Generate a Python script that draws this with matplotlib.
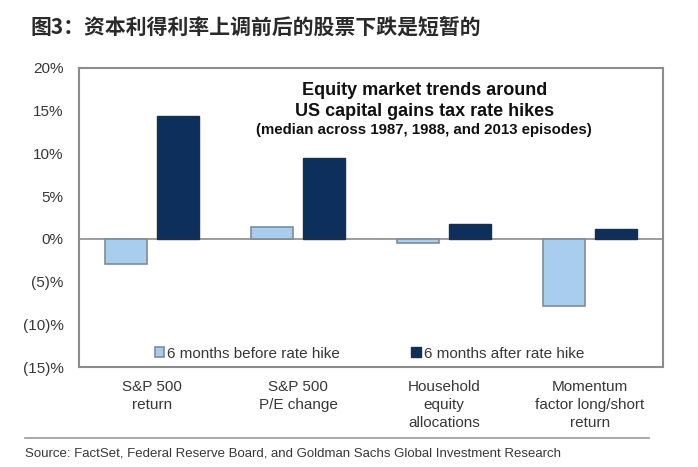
import matplotlib
matplotlib.use("Agg")
import matplotlib.pyplot as plt
import numpy as np

plt.rcParams['font.family'] = ['Liberation Sans', 'DejaVu Sans']

categories = ["S&P 500\nreturn", "S&P 500\nP/E change", "Household\nequity\nallocations",
              "Momentum\nfactor long/short\nreturn"]
before = [-2.9, 1.4, -0.45, -7.85]
after = [14.4, 9.5, 1.75, 1.2]
yticks = [20, 15, 10, 5, 0, -5, -10, -15]
ytick_labels = ["20%", "15%", "10%", "5%", "0%", "(5)%", "(10)%", "(15)%"]

light = "#a9cdee"
dark = "#0c2f5c"
txt = "#383838"
frame = "#8c8c8c"

fig = plt.figure(figsize=(6.98, 4.67), dpi=100)
ax = fig.add_axes([0.1132, 0.2141, 0.8367, 0.6403])

x = np.arange(len(categories))
w = 0.284
ax.bar(x - 0.178, before, w, color=light, edgecolor="#7f8c99", linewidth=1.2,
       label="6 months before rate hike", zorder=3)
ax.bar(x + 0.178, after, w, color=dark, edgecolor="#1c2f45", linewidth=1.0,
       label="6 months after rate hike", zorder=3)

ax.axhline(0, color=frame, linewidth=1.2, zorder=2)
ax.set_xlim(-0.5, 3.5)
ax.set_ylim(-15, 20)
ax.set_yticks(yticks)
ax.set_yticklabels(ytick_labels, fontsize=11, color=txt)
ax.set_xticks(x)
ax.set_xticklabels(categories, fontsize=11, color=txt, linespacing=1.4)
ax.tick_params(axis='y', length=0, pad=11)
ax.tick_params(axis='x', length=0, pad=9)
for s in ax.spines.values():
    s.set_color(frame)
    s.set_linewidth(1.5)

ax.text(0.591, 0.926, "Equity market trends around", transform=ax.transAxes,
        ha="center", va="center", fontsize=13, fontweight="bold", color="#111111")
ax.text(0.591, 0.856, "US capital gains tax rate hikes", transform=ax.transAxes,
        ha="center", va="center", fontsize=13, fontweight="bold", color="#111111")
ax.text(0.591, 0.793, "(median across 1987, 1988, and 2013 episodes)",
        transform=ax.transAxes, ha="center", va="center", fontsize=10.8,
        fontweight="bold", color="#111111")

leg = ax.legend(loc="center", bbox_to_anchor=(0.497, 0.045), ncol=2, frameon=False,
                fontsize=11, handlelength=0.6, handleheight=0.6, handletextpad=0.2,
                columnspacing=4.7, borderaxespad=0)
for t in leg.get_texts():
    t.set_color(txt)

fig.text(0.043, 0.942, "图3：资本利得利率上调前后的股票下跌是短暂的", fontsize=15,
         fontweight="bold", color="#2a2a2a", va="center", ha="left",
         family=["Noto Sans CJK SC", "DejaVu Sans"])

fig.add_artist(plt.Line2D([0.036, 0.93], [(467 - 438) / 467] * 2,
                          transform=fig.transFigure, color="#999999", linewidth=1.2))
fig.text(0.036, (467 - 453) / 467,
         "Source: FactSet, Federal Reserve Board, and Goldman Sachs Global Investment Research",
         fontsize=9.5, color=txt, va="center", ha="left")

fig.savefig("out.png", dpi=100, facecolor="white")
